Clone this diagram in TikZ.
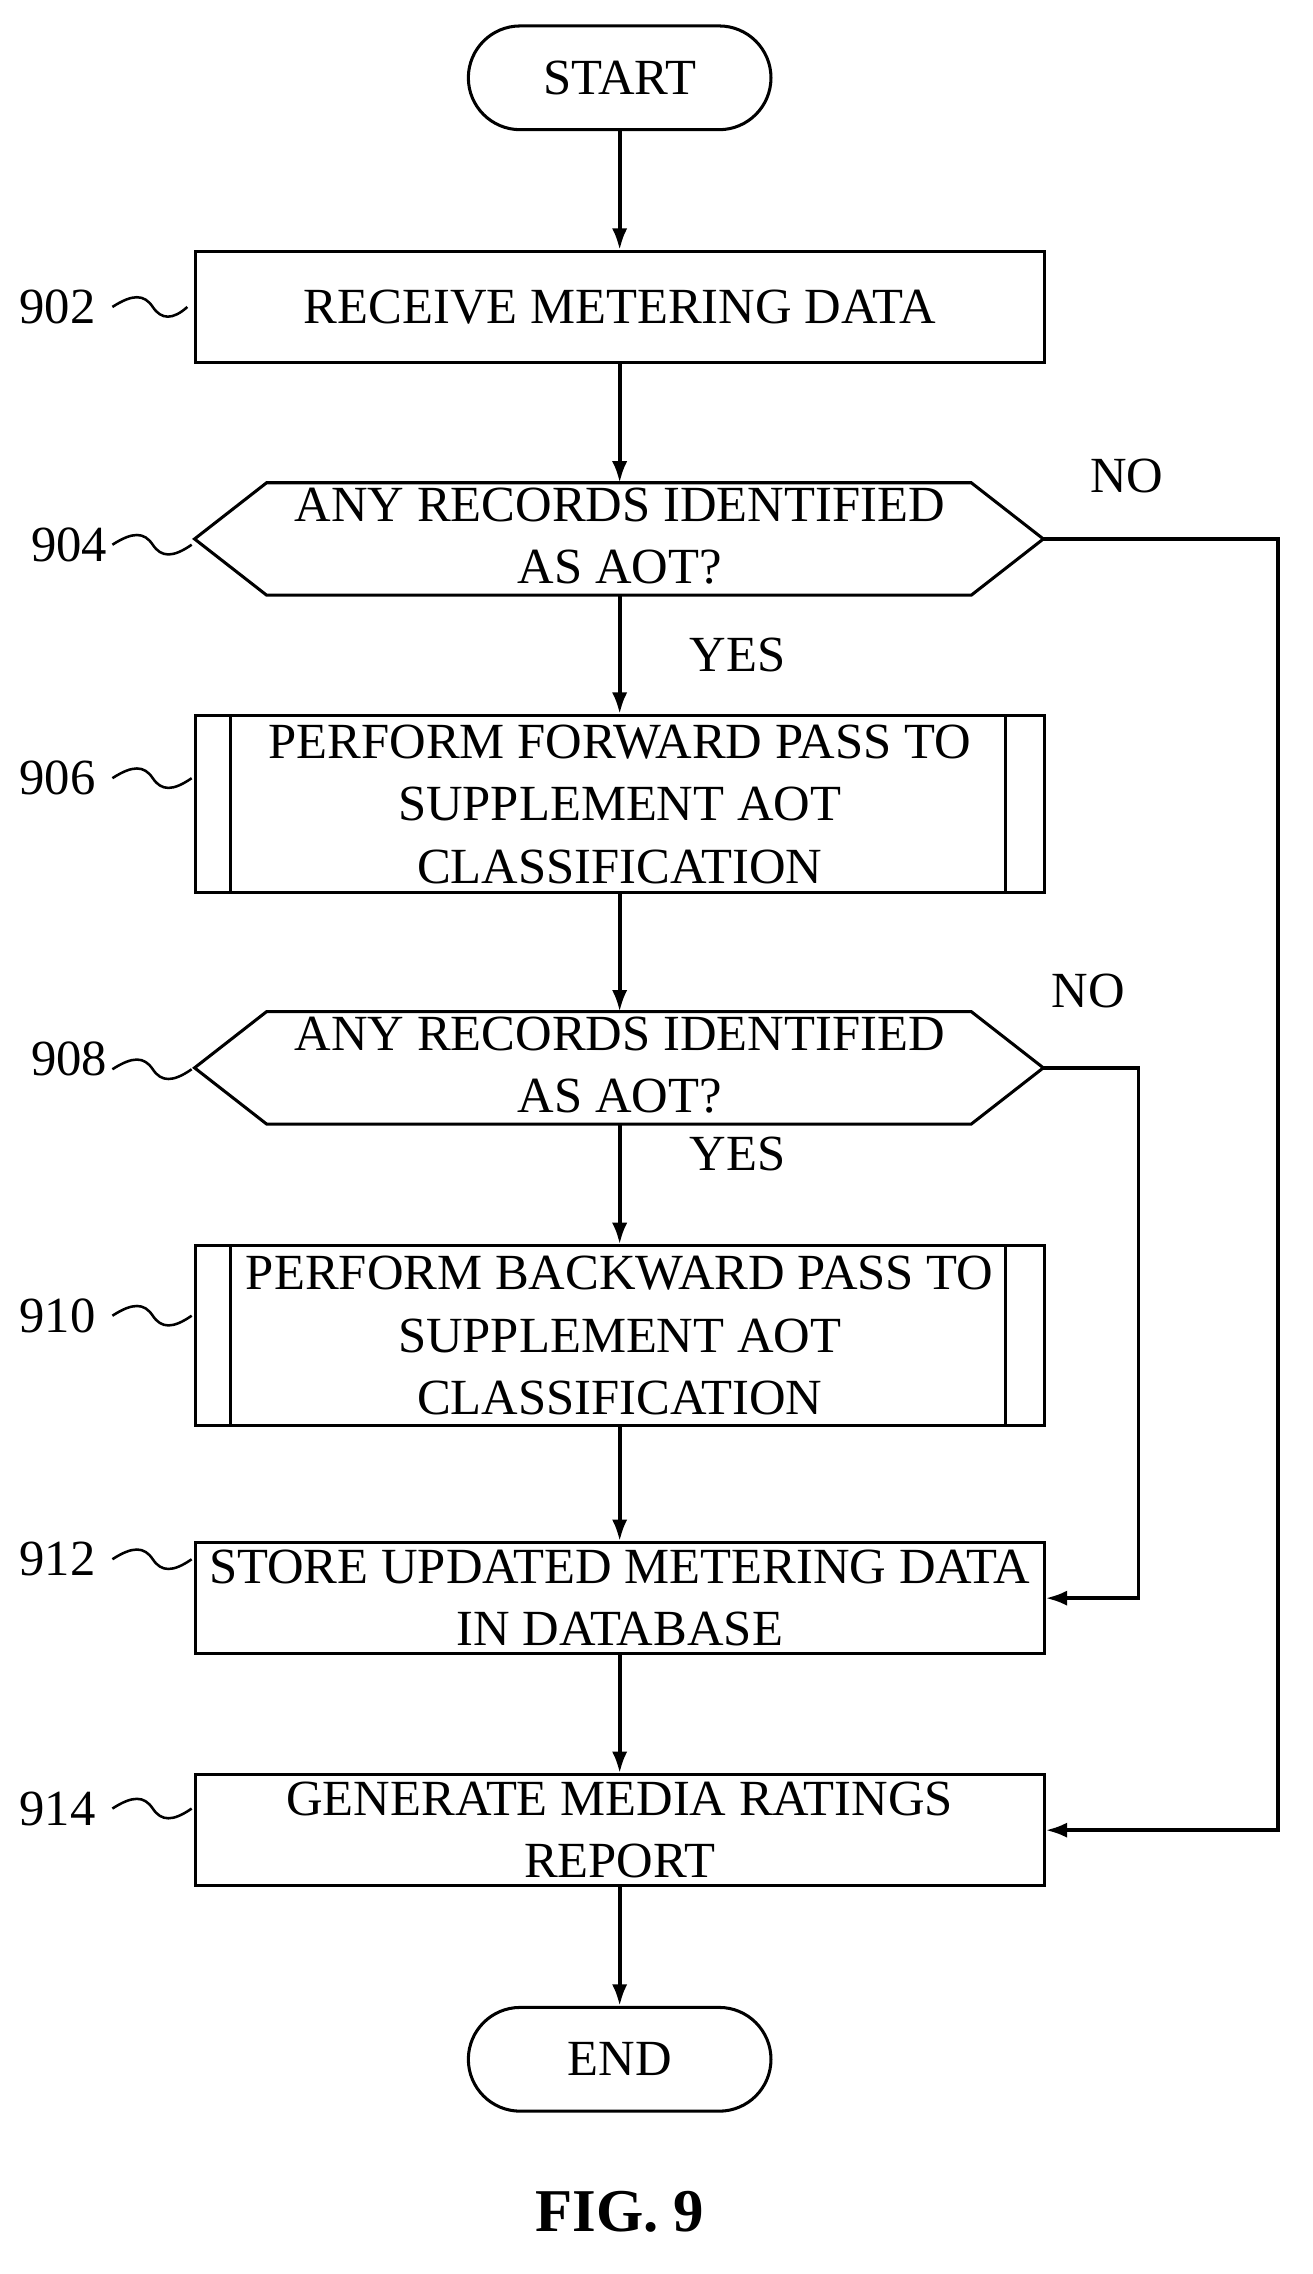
\documentclass[tikz,border=0pt]{standalone}
\usepackage{fontspec}
\setmainfont{Liberation Serif}
\usetikzlibrary{arrows.meta,positioning}
\tikzset{
  box/.style={draw, line width=1.8pt, minimum width=17.67cm, minimum height=2.31cm, align=center, inner sep=0pt},
  term/.style={draw, line width=1.8pt, rounded corners=1.08cm, minimum width=6.3cm, minimum height=2.16cm},
  flow/.style={-{Latex[length=0.45cm,width=0.32cm]}, line width=2.2pt},
  tag/.style={font=\fontsize{30}{36}\selectfont},
  wiggle/.style={line width=1.5pt}
}
\newcommand{\squig}[2]{\draw[wiggle] (78,#2) .. controls (92,#2-9) and (100,#2-9) .. (106,#2) .. controls (112,#2+9) and (120,#2+9) .. (#1,#2);}
\newcommand{\decis}[3]{% name, y center, half height
  \draw[line width=1.8pt] (135,#2) -- (185,#2-#3) -- (674,#2-#3) -- (724,#2) -- (674,#2+#3) -- (185,#2+#3) -- cycle;
  \coordinate (#1-n) at (430,#2-#3); \coordinate (#1-s) at (430,#2+#3); \coordinate (#1-e) at (724,#2);}
\begin{document}
\begin{tikzpicture}[x=0.03cm,y=-0.03cm,font=\fontsize{30}{37}\selectfont]
\useasboundingbox (0,0) rectangle (911,1578);
%%nodes
\node[term] (start) at (430,54) {START};
\node[box] (recv) at (430,213) {RECEIVE METERING DATA};
\decis{q1}{374}{39}
\node[align=center] (q1t) at (430,372) {ANY RECORDS IDENTIFIED\\AS AOT?};
\node[box, minimum height=3.69cm] (fwd) at (430,558) {PERFORM FORWARD PASS TO\\SUPPLEMENT AOT\\CLASSIFICATION};
\draw[line width=1.8pt] (160,497) -- (160,620) (698,497) -- (698,620);
\decis{q2}{741}{39}
\node[align=center] (q2t) at (430,739) {ANY RECORDS IDENTIFIED\\AS AOT?};
\node[box, minimum height=3.75cm] (bwd) at (430,927) {PERFORM BACKWARD PASS TO\\SUPPLEMENT AOT\\CLASSIFICATION};
\draw[line width=1.8pt] (160,865) -- (160,990) (698,865) -- (698,990);
\node[box] (store) at (430,1109) {STORE UPDATED METERING DATA\\IN DATABASE};
\node[box] (report) at (430,1270) {GENERATE MEDIA RATINGS\\REPORT};
\node[term] (end) at (430,1429) {END};
\node[font=\bfseries\fontsize{36}{42}\selectfont] (fig) at (430,1535) {FIG. 9};
%%tags
\node[tag] (t902) at (40,213) {902}; \squig{130}{213}
\node[tag] (t904) at (48,378) {904}; \squig{133}{378}
\node[tag] (t906) at (40,540) {906}; \squig{133}{540}
\node[tag] (t908) at (48,735) {908}; \squig{133}{742}
\node[tag] (t910) at (40,913) {910}; \squig{133}{913}
\node[tag] (t912) at (40,1082) {912}; \squig{133}{1082}
\node[tag] (t914) at (40,1255) {914}; \squig{133}{1255}
%%edges
\coordinate (c1) at (887,374); \coordinate (c2) at (790,741);
\draw[flow] (start) -- (recv);
\draw[flow] (recv) -- (q1-n);
\draw[flow] (q1-s) -- node[pos=0.5,right=1.3cm] {YES} (fwd);
\draw[flow] (fwd) -- (q2-n);
\draw[flow] (q2-s) -- node[pos=0.25,right=1.3cm] {YES} (bwd);
\draw[flow] (bwd) -- (store);
\draw[flow] (store) -- (report);
\draw[flow] (report) -- (end);
\draw[flow] (q1-e) -- (c1) |- (report.east);
\draw[flow] (q2-e) -- (c2) |- (store.east);
\node at (782,330) {NO};
\node at (755,688) {NO};
\end{tikzpicture}
\end{document}
